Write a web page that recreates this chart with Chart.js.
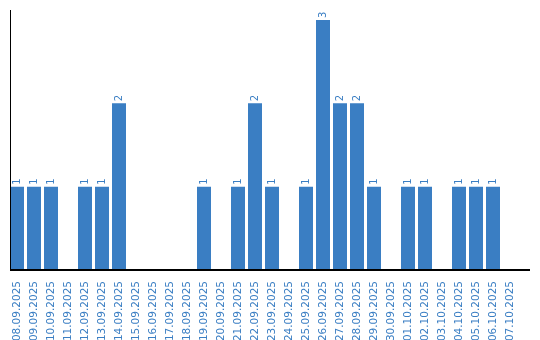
<!DOCTYPE html>
<html lang="en">
<head>
<meta charset="UTF-8">
<title>Daily count</title>
<script src="https://cdn.jsdelivr.net/npm/chart.js"></script>
<style>
    body { margin: 0; padding: 0; background: #fff; }
    #wrap { width: 540px; height: 340px; }
</style>
</head>
<body>
<div id="wrap"><canvas id="chart" width="540" height="340"></canvas></div>
<script>
const dates = [
    '08.09.2025','09.09.2025','10.09.2025','11.09.2025','12.09.2025','13.09.2025','14.09.2025',
    '15.09.2025','16.09.2025','17.09.2025','18.09.2025','19.09.2025','20.09.2025','21.09.2025',
    '22.09.2025','23.09.2025','24.09.2025','25.09.2025','26.09.2025','27.09.2025','28.09.2025',
    '29.09.2025','30.09.2025','01.10.2025','02.10.2025','03.10.2025','04.10.2025','05.10.2025',
    '06.10.2025','07.10.2025'
];
const counts = [1,1,1,0,1,1,2, 0,0,0,0,1,0,1, 2,1,0,1,3,2,2, 1,0,1,1,0,1,1, 1,0];

const blue = '#3a7ec3';

// axis lines and value labels drawn by hand
const extras = {
    id: 'extras',
    afterDatasetsDraw(chart) {
        const ctx = chart.ctx;
        const a = chart.chartArea;
        const x0 = Math.round(a.left + 1.5);
        ctx.save();
        ctx.strokeStyle = '#000';
        ctx.lineWidth = 1;
        ctx.beginPath();
        ctx.moveTo(x0 + 0.5, a.top);
        ctx.lineTo(x0 + 0.5, a.bottom);
        ctx.stroke();
        ctx.lineWidth = 2;
        ctx.beginPath();
        ctx.moveTo(x0, a.bottom);
        ctx.lineTo(x0 + 520, a.bottom);
        ctx.stroke();

        ctx.fillStyle = blue;
        ctx.font = '10px "DejaVu Sans"';
        ctx.textAlign = 'left';
        ctx.textBaseline = 'middle';
        chart.getDatasetMeta(0).data.forEach((bar, i) => {
            if (!counts[i]) return;
            ctx.save();
            ctx.translate(bar.x, bar.y - 2);
            ctx.rotate(-Math.PI / 2);
            ctx.fillText(String(counts[i]), 0, 0);
            ctx.restore();
        });
        ctx.restore();
    }
};

new Chart(document.getElementById('chart'), {
    type: 'bar',
    data: {
        labels: dates,
        datasets: [{
            data: counts,
            backgroundColor: blue,
            borderWidth: 0,
            barPercentage: 14 / 17,
            categoryPercentage: 1
        }]
    },
    options: {
        responsive: false,
        animation: false,
        layout: { padding: { left: 8.5, right: 21.5, top: 10, bottom: 0 } },
        plugins: { legend: { display: false }, tooltip: { enabled: false } },
        scales: {
            x: {
                grid: { display: false },
                border: { display: false },
                ticks: {
                    color: blue,
                    font: { family: 'DejaVu Sans', size: 10.5 },
                    minRotation: 90,
                    maxRotation: 90,
                    autoSkip: false,
                    padding: 3
                },
                afterFit(scale) { scale.height = 70; }
            },
            y: {
                display: false,
                min: 0,
                max: 3.12
            }
        }
    },
    plugins: [extras]
});
</script>
</body>
</html>
